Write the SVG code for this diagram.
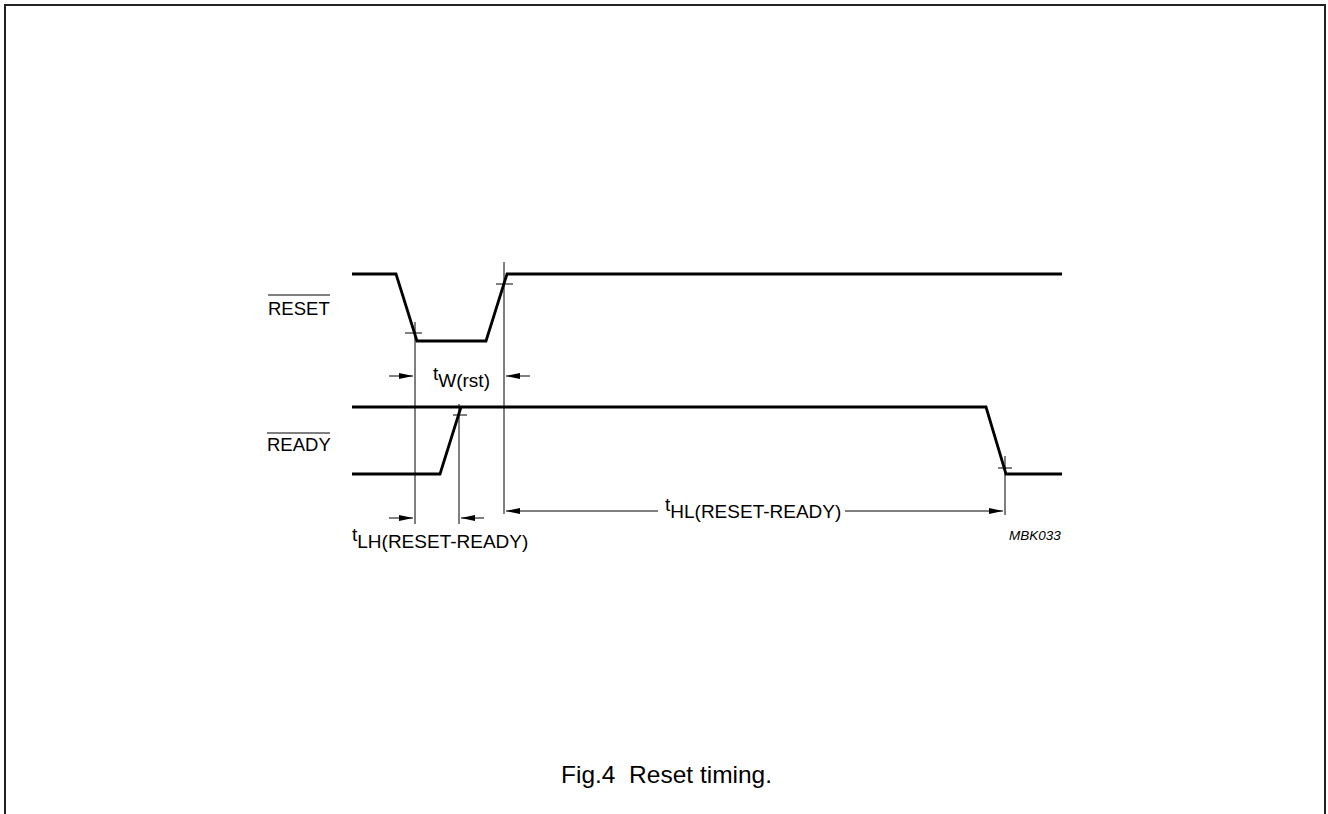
<svg xmlns="http://www.w3.org/2000/svg" width="1328" height="814" viewBox="0 0 1328 814">
<style>
.sig{fill:none;stroke:#000;stroke-width:2.8;stroke-linejoin:miter}
.thin{fill:none;stroke:#000;stroke-width:1}
.t{font-family:"Liberation Sans",Arial,sans-serif;fill:#000}
</style>
<defs>
<marker id="ah" markerWidth="14" markerHeight="8" refX="14" refY="4" orient="auto" markerUnits="userSpaceOnUse">
<path d="M0,1 L14,4 L0,7 Z" fill="#000"/>
</marker>
</defs>
<rect width="1328" height="814" fill="#fff"/>
<path d="M5,830 V5 H1325 V830" fill="none" stroke="#222" stroke-width="2"/>
<g id="reset">
<path class="sig" d="M352,274 H396 L417,341 H486 L507,274 H1062"/>
<text class="t" x="268" y="315" font-size="18.5">RESET</text>
<line class="thin" x1="268" y1="295" x2="330" y2="295"/>
</g>
<g id="ready">
<path class="sig" d="M352,407 H986 L1006,474 H1062"/>
<path class="sig" d="M352,474 H440 L461,407"/>
<text class="t" x="267" y="451" font-size="18.5">READY</text>
<line class="thin" x1="267" y1="433" x2="330" y2="433"/>
</g>
<g id="connectors">
<line class="thin" x1="415" y1="322" x2="415" y2="524"/>
<line class="thin" x1="405" y1="333" x2="422" y2="333"/>
<line class="thin" x1="504" y1="262" x2="504" y2="514"/>
<line class="thin" x1="496" y1="284" x2="513" y2="284"/>
<line class="thin" x1="459" y1="404" x2="459" y2="524"/>
<line class="thin" x1="453" y1="415" x2="467" y2="415"/>
<line class="thin" x1="1005" y1="456" x2="1005" y2="515"/>
<line class="thin" x1="998" y1="468" x2="1012" y2="468"/>
<line class="thin" x1="389" y1="376" x2="413" y2="376" marker-end="url(#ah)"/>
<line class="thin" x1="530" y1="376" x2="506" y2="376" marker-end="url(#ah)"/>
<line class="thin" x1="389" y1="518" x2="413" y2="518" marker-end="url(#ah)"/>
<line class="thin" x1="484" y1="518" x2="461" y2="518" marker-end="url(#ah)"/>
<line class="thin" x1="658" y1="511" x2="506" y2="511" marker-end="url(#ah)"/>
<line class="thin" x1="845" y1="511" x2="1003" y2="511" marker-end="url(#ah)"/>
</g>
<g id="labels">
<text class="t" x="433" y="380" font-size="19">t<tspan dy="7">W(rst)</tspan></text>
<text class="t" x="352" y="541" font-size="19">t<tspan dy="7">LH(RESET-READY)</tspan></text>
<text class="t" x="665" y="511" font-size="19">t<tspan dy="7">HL(RESET-READY)</tspan></text>
<text class="t" x="1009" y="540" font-size="13.5" font-style="italic">MBK033</text>
<text class="t" x="561" y="783" font-size="24.5" xml:space="preserve">Fig.4  Reset timing.</text>
</g>
</svg>
